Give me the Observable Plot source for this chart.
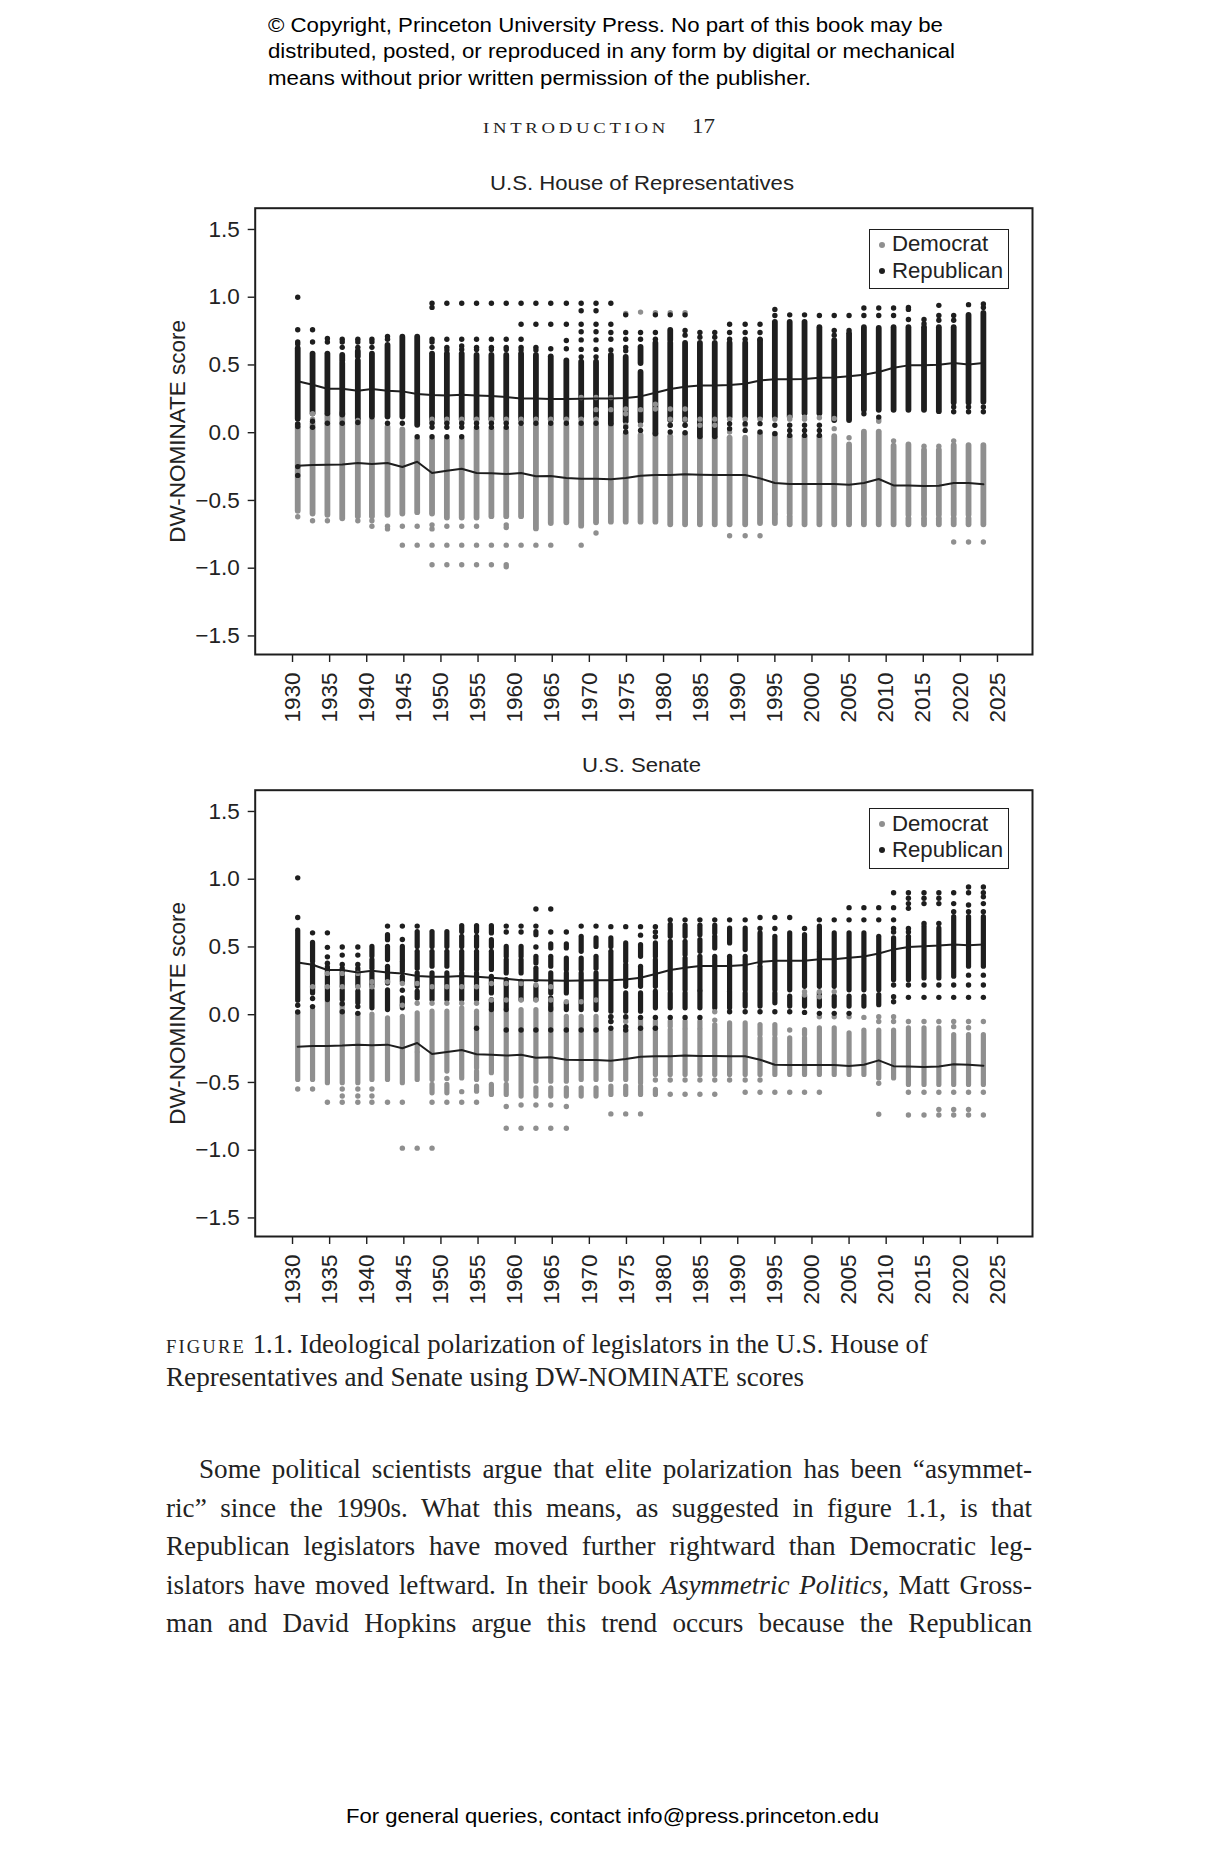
<!DOCTYPE html>
<html><head><meta charset="utf-8">
<script src="https://cdn.jsdelivr.net/npm/d3@7"></script>
<script src="https://cdn.jsdelivr.net/npm/@observablehq/plot@0.6"></script>
<style>
html,body{margin:0;padding:0;background:#fff}
#page{position:relative;width:1225px;height:1850px;overflow:hidden;background:#fff;color:#222}
.t{position:absolute;white-space:nowrap;line-height:1;transform-origin:left center;display:inline-block}
.sans{font-family:"Liberation Sans",sans-serif}
.serif{font-family:"Liberation Serif",serif}
.chart{position:absolute;left:150px}
.legend{position:absolute;left:869px;width:137.5px;height:58.5px;border:1.6px solid #1e1e1e;background:#fff;font:22.2px "Liberation Sans",sans-serif;color:#222}
.legend i{position:absolute;left:9px;width:6px;height:6px;border-radius:50%}
.legend span{position:absolute;left:22px;line-height:1}
</style></head><body><div id="page"></div>
<script>
const years=[1930.7,1932.7,1934.7,1936.7,1938.8,1940.7,1942.8,1944.8,1946.8,1948.8,1950.8,1952.8,1954.8,1956.8,1958.8,1960.8,1962.8,1964.8,1966.9,1968.9,1970.9,1972.9,1974.9,1976.9,1978.9,1980.9,1982.9,1984.9,1986.9,1988.9,1991.0,1993.0,1995.0,1997.0,1999.0,2001.0,2003.0,2005.0,2007.0,2009.0,2011.0,2013.0,2015.1,2017.1,2019.1,2021.1,2023.1];
const xTicks=[1930,1935,1940,1945,1950,1955,1960,1965,1970,1975,1980,1985,1990,1995,2000,2005,2010,2015,2020,2025];
const yTicks=[-1.5,-1,-0.5,0,0.5,1,1.5];

const houseRepMean=[.38,.354,.325,.325,.31,.322,.31,.305,.285,.278,.275,.28,.275,.27,.263,.253,.253,.248,.248,.25,.253,.253,.256,.268,.295,.322,.34,.349,.349,.352,.362,.386,.394,.394,.396,.406,.408,.416,.428,.448,.48,.497,.497,.502,.514,.504,.514];
const houseDemMean=[-.244,-.239,-.236,-.234,-.224,-.231,-.224,-.253,-.214,-.298,-.28,-.266,-.298,-.30,-.305,-.298,-.322,-.32,-.335,-.34,-.34,-.344,-.335,-.317,-.312,-.312,-.307,-.31,-.312,-.312,-.312,-.337,-.371,-.379,-.379,-.379,-.379,-.384,-.371,-.342,-.389,-.389,-.394,-.391,-.371,-.371,-.381];
const senateRepMean=[.386,.369,.33,.33,.312,.324,.312,.305,.285,.28,.28,.285,.28,.273,.265,.255,.255,.253,.25,.253,.255,.255,.26,.273,.30,.33,.346,.359,.359,.359,.366,.39,.398,.398,.398,.41,.41,.42,.43,.452,.482,.50,.506,.51,.518,.513,.518];
const senateDemMean=[-.236,-.231,-.231,-.228,-.221,-.226,-.221,-.248,-.209,-.29,-.275,-.26,-.292,-.295,-.302,-.295,-.317,-.314,-.332,-.334,-.334,-.339,-.327,-.31,-.307,-.307,-.302,-.305,-.305,-.307,-.307,-.332,-.369,-.371,-.371,-.371,-.371,-.378,-.369,-.337,-.38,-.383,-.386,-.383,-.366,-.369,-.376];

// Dense stretches of legislators in each Congress, as [top, bottom] score pairs
const houseRepRuns=[[[.62,.10]],[[.58,.14]],[[.58,.14]],[[.57,.53],[.51,.13]],[[.6,.56],[.53,.10]],[[.58,.115]],[[.645,.115]],[[.705,.115]],[[.705,.055]],[[.58,.095]],[[.58,.095]],[[.58,.095]],[[.57,.095]],[[.57,.095]],[[.57,.095]],[[.58,.095]],[[.57,.095]],[[.56,.095]],[[.53,.10]],[[.52,.115]],[[.52,.115]],[[.57,.065]],[[.555,.08]],[[.63,.51],[.445,.08]],[[.66,-.01]],[[.755,.68],[.66,.09]],[[.66,.09]],[[.66,-.03]],[[.66,-.03]],[[.66,.115]],[[.66,.115]],[[.68,.115]],[[.815,.115]],[[.815,.115]],[[.815,.14]],[[.775,.14]],[[.68,.09]],[[.73,.09]],[[.775,.165]],[[.77,.165]],[[.775,.165]],[[.775,.165]],[[.775,.165]],[[.775,.155]],[[.775,.22]],[[.865,.22]],[[.88,.225]]];
const houseRepDots=[[1.0,.76,.67,.655,.065,.045,-.25,-.315],[.76,.67,.085,.04],[.695,.67,.07],[.69,.67,.63,.07],[.69,.67,.63,.075],[.69,.67,.63],[.71,.69,.07],[.07],[-.03],[.955,.925,.69,.67,.63,.07,.04,-.03],[.955,.69,.63,.61,.07,.04,-.03],[.955,.69,.64,.615,.07,.04,-.03],[.955,.69,.63,.615,.07,.04],[.955,.69,.63,.615,.07,.04],[.955,.69,.63,.615,.07,.04],[.955,.80,.69,.63,.61,.07],[.955,.80,.63,.61,.07],[.955,.80,.62,.07],[.955,.80,.68,.62,.07],[.955,.90,.80,.745,.685,.615,.56,.07],[.955,.90,.80,.745,.685,.615,.56,.07],[.955,.80,.74,.69,.61],[.87,.74,.69,.63,.605,.04,.005],[.74,.69,.017],[.87,.74,.69],[.87,.055,.005],[.87,.755,.72,.055,0],[.74,.705],[.74,.705],[.80,.74,.69,.067,.03],[.80,.74,.69,.067,.017],[.80,.74,.69,.067,.005],[.91,.865,.055,-.007],[.87,.055,.017,-.02],[.87,.055,.017,-.02],[.865,.055,.017,-.02],[.865,.755,.72],[.865,.755],[.92,.865,.14],[.92,.865,.115],[.92,.865],[.925,.91,.835],[.835,.805],[.94,.865,.83],[.865,.83,.19,.155],[.945,.19,.155],[.95,.925,.19,.155]];
const houseDemRuns=[[[.06,-.58]],[[.065,-.60]],[[.13,-.61]],[[.14,-.635]],[[.09,-.62]],[[.09,-.62]],[[.04,-.61]],[[.02,-.60]],[[-.055,-.59]],[[-.055,-.60]],[[-.055,-.63]],[[-.055,-.63]],[[.02,-.63]],[[.02,-.62]],[[.02,-.62]],[[.04,-.62]],[[.05,-.71]],[[.05,-.67]],[[.05,-.665]],[[.05,-.69]],[[.05,-.665]],[[.055,-.66]],[[-.01,-.66]],[[-.02,-.66]],[[-.01,-.66]],[[-.03,-.68]],[[-.01,-.68]],[[-.04,-.68]],[[-.04,-.68]],[[-.04,-.68]],[[-.04,-.68]],[[-.01,-.67]],[[-.01,-.60],[-.61,-.67]],[[-.03,-.60],[-.62,-.68]],[[-.03,-.68]],[[-.03,-.68]],[[-.03,-.68]],[[-.09,-.68]],[[.005,-.68]],[[.005,-.68]],[[-.10,-.68]],[[-.09,-.61],[-.635,-.68]],[[-.13,-.61],[-.635,-.68]],[[-.13,-.61],[-.635,-.68]],[[-.095,-.61],[-.635,-.68]],[[-.095,-.61],[-.635,-.68]],[[-.095,-.68]]];
const houseDemDots=[[-.62],[.14,.10,-.65],[-.65],[],[.09,-.65],[-.65,-.69],[-.69,-.71],[-.69,-.83],[-.69,-.83],[.10,.08,-.68,-.71,-.83,-.975],[.10,.08,-.69,-.83,-.975],[.10,.08,-.69,-.83,-.975],[.10,.08,-.69,-.83,-.975],[.10,.08,-.83,-.975],[.10,.08,-.68,-.70,-.83,-.975,-.99],[.10,.08,-.83],[.10,.08,-.83],[.10,.08,-.83],[.10,.08],[.26,.10,.08,-.83],[.26,.17,.10,.08,-.74],[.26,.17],[.88,.175,.14,.055],[.89,.17,.055],[.885,.21,.175],[.885,.175,.10,.055],[.885,.175,.10,.055],[.10,.055],[.10,.055],[.10,.005,-.76],[.10,.055,-.76],[.10,-.76],[.10],[.115,.10],[.115,.10],[.11],[.105,.03],[-.037],[],[.10,.085],[-.06],[],[-.10],[-.10],[-.06,-.807],[-.807],[-.807]];

const senateRepRuns=[[[.62,.103]],[[.53,.39],[.366,.157]],[[.35,.108]],[[.34,.206],[.18,.108]],[[.34,.206],[.17,.084]],[[.50,.43],[.403,.34],[.305,.206],[.18,.047]],[[.587,.55],[.50,.403],[.354,.23],[.18,.034]],[[.50,.403],[.39,.317],[.28,.243],[.12,.047]],[[.61,.50],[.464,.34],[.305,.206],[.17,.12]],[[.61,.50],[.464,.354],[.305,.108]],[[.61,.50],[.464,.354],[.305,.108]],[[.654,.61],[.575,.50],[.464,.33],[.305,.108]],[[.654,.61],[.575,.50],[.464,.33],[.305,.108]],[[.654,.60],[.55,.50],[.464,.33],[.28,.157],[.108,.034]],[[.50,.427],[.403,.305],[.255,.034]],[[.50,.427],[.403,.305],[.243,.108]],[[.61,.587],[.427,.378],[.34,.255],[.206,.108]],[[.52,.489],[.427,.354],[.305,.157],[.12,.034]],[[.52,.489],[.415,.33],[.305,.157],[.084,.034]],[[.575,.464],[.415,.33],[.305,.034]],[[.563,.50],[.427,.34],[.305,.034]],[[.563,.50],[.464,.022]],[[.526,.39],[.366,.206],[.157,.022]],[[.513,.427],[.354,.206],[.157,.022]],[[.526,.427],[.403,.206],[.17,.047]],[[.663,.575],[.538,.18],[.157,.047]],[[.657,.575],[.538,.44],[.415,.18],[.157,.047]],[[.657,.587],[.55,.464],[.427,.18],[.17,.047]],[[.657,.60],[.575,.489],[.427,.047]],[[.636,.526],[.427,.18],[.17,.047]],[[.636,.477],[.427,.18],[.157,.06]],[[.60,.378],[.354,.06]],[[.575,.18],[.157,.084]],[[.60,.18],[.133,.06]],[[.587,.206],[.133,.06]],[[.65,.477],[.464,.206],[.157,.06]],[[.60,.206],[.133,.06]],[[.60,.18],[.133,.06]],[[.60,.18],[.133,.06]],[[.575,.18],[.145,.07]],[[.563,.255]],[[.575,.255]],[[.65,.268]],[[.636,.268]],[[.72,.28]],[[.72,.354]],[[.72,.354]]];
const senateRepDots=[[1.01,.717,.07,.02],[.604,.12,.06],[.604,.497,.427,.38],[.50,.44,.37,.08,.022],[.50,.44,.37,.06,.01],[],[.654],[.654,.555,.18],[.654],[],[],[],[-.10],[],[.654,.61,-.113],[.654,.61,-.113],[.78,.654,.50,-.113],[.78,.61,-.113],[.61,-.113],[.654,-.113],[.654,-.113],[.65,-.015,-.05,-.10],[.65,-.015,-.088,-.113],[.65,.587,-.02,-.10],[.65,.61,.575,-.02,-.10],[.70,-.02],[.70,-.02],[.70,-.02],[.70],[.70,.022],[.70,.022],[.717,.636,.022],[.717,.636,.022],[.717,.022],[.636,.017],[.70,.01],[.70,.01],[.79,.70,.01],[.79,.70],[.79,.70],[.90,.79,.70,.636,.61,.219,.133,.096],[.90,.86,.82,.785,.636,.61,.219,.128],[.90,.86,.82,.673,.219,.128],[.90,.86,.82,.673,.219,.128],[.90,.82,.76,.219,.128],[.943,.90,.81,.76,.292,.219,.128],[.943,.90,.87,.82,.76,.292,.219,.128]];
const senateDemRuns=[[[.01,-.482]],[[.034,-.482]],[[.096,-.506]],[[.084,-.506]],[[0,-.506]],[[0,-.482]],[[-.027,-.482]],[[-.015,-.506]],[[.01,-.273],[-.285,-.482]],[[.022,-.482],[-.518,-.58]],[[.022,-.42],[-.518,-.58]],[[.047,-.47]],[[.022,-.396],[-.42,-.482],[-.53,-.568]],[[.034,-.432],[-.518,-.592]],[[.034,-.482],[-.518,-.592]],[[.034,-.604]],[[.034,-.494],[-.543,-.604]],[[.047,-.494],[-.543,-.604]],[[-.015,-.494],[-.543,-.604]],[[-.015,-.482],[-.543,-.604]],[[-.015,-.482],[-.543,-.604]],[[-.125,-.482],[-.53,-.592]],[[-.125,-.482],[-.53,-.592]],[[-.04,-.506],[-.53,-.592]],[[-.05,-.445],[-.555,-.592]],[[-.05,-.088],[-.113,-.445]],[[-.05,-.10],[-.113,-.445]],[[-.05,-.10],[-.113,-.445]],[[-.076,-.445]],[[-.064,-.445]],[[-.064,-.445]],[[-.076,-.15],[-.174,-.445]],[[-.076,-.15],[-.174,-.445]],[[-.174,-.445]],[[-.113,-.15],[-.174,-.445]],[[-.10,-.445]],[[-.10,-.445]],[[-.138,-.445]],[[-.118,-.445]],[[-.118,-.47]],[[-.118,-.47]],[[-.10,-.518]],[[-.10,-.518]],[[-.10,-.518]],[[-.15,-.518]],[[-.15,-.518]],[[-.15,-.518]]];
const senateDemDots=[[-.548],[.206,-.548],[.305,.206,-.646],[.305,.206,-.548,-.60,-.646],[.305,.206,-.548,-.60,-.646],[.243,.206,-.548,-.60,-.646],[.243,-.646],[.23,.07,-.646,-.985],[.23,.084,-.985],[.206,.084,-.646,-.985],[.206,.084,-.47,-.646],[.206,.084,-.568,-.646],[.206,.084,-.646],[.23,.108],[.23,.108,-.678,-.838],[.23,.108,-.666,-.838],[.219,.108,-.666,-.838],[.206,.108,-.666,-.838],[.096,-.678,-.838],[.096],[.108],[-.015,-.05,-.732],[-.027,-.05,-.732],[-.732],[-.482],[-.482,-.587],[-.482,-.587],[-.482,-.587],[.022,-.04,-.482,-.587],[-.482],[-.482,-.572],[-.482,-.572],[-.572],[-.113,-.572],[.17,.145,-.572],[.17,.133,-.015,-.572],[.17,-.015],[-.015],[-.02],[-.015,-.05,-.506,-.735],[-.015,-.05],[-.05,-.572,-.74],[-.05,-.572,-.74],[-.05,-.572,-.70,-.74],[-.05,-.088,-.572,-.70,-.74],[-.05,-.096,-.572,-.70,-.74],[-.05,-.572,-.74]];

const GREY="#8f8f8f",INK="#1e1e1e";
const page=document.getElementById("page");
const runTable=a=>a.flatMap((rs,i)=>rs.map(([hi,lo])=>({year:years[i],hi,lo})));
const dotTable=a=>a.flatMap((vs,i)=>vs.map(v=>({year:years[i],v})));
const fmt=d=>(d<0?"\u2212":"")+Math.abs(d).toFixed(1);

function chart(top,runWidth,repRuns,repDots,demRuns,demDots,repMean,demMean){
  const runs=(t,c)=>Plot.ruleX(runTable(t),{x:"year",y1:"hi",y2:"lo",stroke:c,strokeWidth:runWidth,strokeLinecap:"round"});
  const dots=(t,c)=>Plot.dot(dotTable(t),{x:"year",y:"v",r:2.7,fill:c,stroke:"none"});
  const mean=m=>Plot.line(years.map((y,i)=>({y,m:m[i]})),{x:"y",y:"m",stroke:INK,strokeWidth:2,curve:"linear"});
  const p=Plot.plot({
    width:900,height:560,marginLeft:104.7,marginRight:18,marginTop:37.7,marginBottom:76,
    style:{fontFamily:"Liberation Sans",color:"#222",background:"transparent",overflow:"visible"},
    x:{domain:[1924.97,2029.72],label:null},
    y:{domain:[-1.637,1.657],label:null},
    marks:[
      runs(demRuns,GREY),runs(repRuns,INK),dots(demDots,GREY),dots(repDots,INK),
      mean(repMean),mean(demMean),
      Plot.frame({stroke:INK,strokeWidth:2}),
      Plot.axisX({ticks:xTicks,tickFormat:d=>String(d),tickRotate:-90,tickSize:8,tickPadding:10,fontSize:22.5,stroke:INK,strokeWidth:1.4,fill:"#222",label:null}),
      Plot.axisY({ticks:yTicks,tickFormat:fmt,tickSize:7,tickPadding:8.5,fontSize:22.5,stroke:INK,strokeWidth:1.4,fill:"#222",label:null}),
      Plot.text(["DW-NOMINATE score"],{frameAnchor:"left",textAnchor:"middle",rotate:-90,dx:-77.4,fontSize:22.5,fill:"#222"})
    ]
  });
  p.classList.add("chart");p.style.top=top+"px";
  page.appendChild(p);
}
chart(170,5.8,houseRepRuns,houseRepDots,houseDemRuns,houseDemDots,houseRepMean,houseDemMean);
chart(752.4,5.2,senateRepRuns,senateRepDots,senateDemRuns,senateDemDots,senateRepMean,senateDemMean);

function legend(top,a,b){
  const d=document.createElement("div");d.className="legend";d.style.top=top+"px";
  d.innerHTML='<i style="top:12px;background:'+GREY+'"></i><span style="top:'+a+'px">Democrat</span><i style="top:38px;background:'+INK+'"></i><span style="top:'+b+'px">Republican</span>';
  page.appendChild(d);
}
legend(228.8,3.5,30.5);legend(808,3.5,30);

// text: [text, class, size, left, centre y, target width, extra css]
const texts=[
 ["\u00a9 Copyright, Princeton University Press. No part of this book may be","sans",20,267.5,24.5,675,"color:#000"],
 ["distributed, posted, or reproduced in any form by digital or mechanical","sans",20,267.5,50.5,687,"color:#000"],
 ["means without prior written permission of the publisher.","sans",20,267.5,77.5,543,"color:#000"],
 ["introduction","serif",20,483,126,186,"font-variant:small-caps;letter-spacing:.14em"],
 ["17","serif",21,692,126,23,""],
 ["U.S. House of Representatives","sans",21,490,182.5,304,""],
 ["U.S. Senate","sans",21,582,764.5,119,""],
 ["<span style='font-variant:small-caps;letter-spacing:.08em'>figure</span> 1.1. Ideological polarization of legislators in the U.S. House of","serif",27.5,166,1344,762,""],
 ["Representatives and Senate using DW-NOMINATE scores","serif",27.5,166,1377,638,""],
 ["For general queries, contact info@press.princeton.edu","sans",20,346,1815.5,533,"color:#000"]
];
for(const [s,c,fs,l,y,w,css] of texts){
  const e=document.createElement("span");e.className="t "+c;e.innerHTML=s;
  e.style.cssText=`left:${l}px;top:${y-fs/2}px;font-size:${fs}px;${css}`;
  page.appendChild(e);
  e.style.transform=`scaleX(${w/e.getBoundingClientRect().width})`;
}
const para=[
 ["Some political scientists argue that elite polarization has been \u201casymmet-",199],
 ["ric\u201d since the 1990s. What this means, as suggested in figure 1.1, is that",166],
 ["Republican legislators have moved further rightward than Democratic leg-",166],
 ["islators have moved leftward. In their book <em>Asymmetric Politics,</em> Matt Gross-",166],
 ["man and David Hopkins argue this trend occurs because the Republican",166]
];
const paraY=[1469,1507.5,1546,1585,1623];
para.forEach(([s,l],i)=>{
  const e=document.createElement("span");e.className="t serif";e.innerHTML=s;
  const fs=28,k=.97,target=1032-l;
  e.style.cssText=`left:${l}px;top:${paraY[i]-fs/2}px;font-size:${fs}px;color:#222`;
  page.appendChild(e);
  const nat=e.getBoundingClientRect().width*k;
  const spaces=e.textContent.split(" ").length-1;
  e.style.wordSpacing=((target-nat)/spaces/k)+"px";
  e.style.transform=`scaleX(${k})`;
});
</script></body></html>
